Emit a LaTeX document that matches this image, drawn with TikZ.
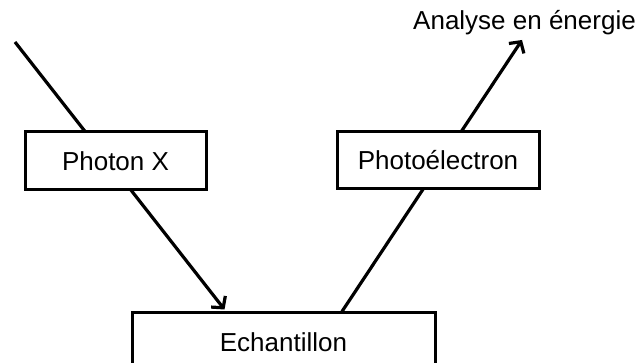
\documentclass[tikz,border=0pt]{standalone}
\usepackage{fontspec}
\setmainfont{Liberation Sans}
\usetikzlibrary{arrows.meta, positioning, backgrounds}

\begin{document}
\begin{tikzpicture} [x=1pt, y=-1pt,
			font=\fontsize{26}{30}\selectfont,
			box/.style={draw, line width=3pt, fill=white, inner sep=0pt},
			ray/.style={line width=3.2pt, -{Straight Barb[length=8pt, width=18pt]}},
		]

		\useasboundingbox (0,0) rectangle (643,363);

		% Boxes
		\node (photon) [box,
			minimum width=181pt, minimum height=58pt] at (115.5,161) {Photon X};
		\node (photoel) [box,
			minimum width=202pt, minimum height=57pt] at (438,160.5) {Photo\'electron};
		\node (ech) [box,
			minimum width=303pt, minimum height=58pt] at (283.5,342) {Echantillon};
		% Label
		\node (analyse) [anchor=base west,
			inner sep=0pt] at (413,30) {Analyse en \'energie};
		% Ends of the rays
		\coordinate (xin) at (15,42);
		\coordinate (hit) at ([xshift=-59pt, yshift=2pt]ech.north);
		\coordinate (emit) at ([xshift=58.5pt]ech.north);
		\coordinate (out) at (522,40);
		% Arrows
		\begin{scope}[on background layer]
			\draw [ray] (xin) -- (hit);
			\draw [ray] (emit) -- (out);
		\end{scope}
	\end{tikzpicture}
\end{document}
